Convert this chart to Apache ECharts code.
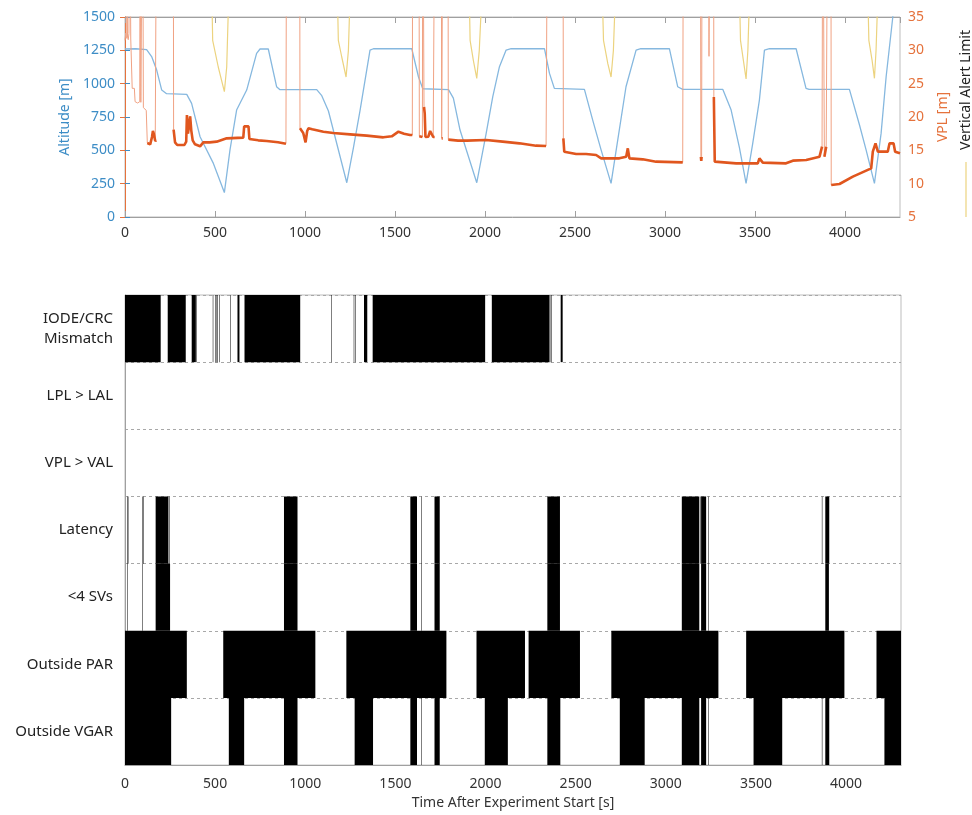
<!DOCTYPE html>
<html>
<head>
<meta charset="utf-8">
<script src="https://cdn.jsdelivr.net/npm/echarts@6/dist/echarts.min.js"></script>
<style>
html,body{margin:0;padding:0;background:#fff;}
#c{width:972px;height:815px;}
</style>
</head>
<body>
<div id="c"></div>
<script>
// ---------- DATA ----------
const xTicks = [0, 500, 1000, 1500, 2000, 2500, 3000, 3500, 4000];
const timeMax = 4305;

// Altitude [m] : [time s, altitude m]
const altitude = [[0,1260],[60,1262],[120,1255],[148,1203],[176,1102],[204,952],[231,925],[343,920],[370,852],[417,602],[491,402],[552,183],[583,502],[620,802],[676,952],[731,1227],[750,1260],[796,1260],[842,977],[861,955],[1065,955],[1093,910],[1130,795],[1232,257],[1269,520],[1306,802],[1361,1252],[1380,1262],[1593,1262],[1630,1052],[1654,962],[1797,955],[1824,892],[1861,652],[1954,257],[2006,625],[2043,902],[2080,1127],[2117,1252],[2145,1262],[2330,1262],[2358,1077],[2385,965],[2552,957],[2598,727],[2645,502],[2700,252],[2737,577],[2783,977],[2839,1252],[2865,1262],[3024,1262],[3070,977],[3098,957],[3321,957],[3367,802],[3413,520],[3450,252],[3487,552],[3524,877],[3552,1252],[3580,1262],[3728,1262],[3783,965],[3800,957],[4024,957],[4080,690],[4117,502],[4163,252],[4200,627],[4228,1052],[4265,1500],[4290,1800]];

// VPL [m] : [time s, VPL m]  (60 = beyond top of scale)
const vpl = [[0,31.5],[4,32.6],[7,31.8],[9,60],[12,60],[14,32],[18,31.6],[22,32.5],[26,60],[30,60],[32,31.7],[40,24.3],[52,24.3],[56,22.3],[70,22.1],[82,22.3],[84,60],[86,60],[88,22.2],[96,22.0],[98,60],[100,60],[102,21.4],[112,21.2],[118,21.0],[124,16.1],[130,15.8],[140,15.9],[150,17.0],[155,17.9],[160,17.5],[168,16.4],[174,16.5],[176,60],
[268,60],[270,18.1],[278,16.2],[290,15.8],[330,15.8],[340,16.3],[344,20.3],[350,17.5],[357,17.8],[362,20.1],[368,18.0],[376,16.5],[389,15.9],[417,15.6],[435,16.2],[470,16.2],[509,16.3],[565,16.8],[657,16.9],[662,18.6],[686,18.6],[691,16.7],[740,16.5],[787,16.4],[850,16.2],[894,16.0],[898,60],
[970,60],[972,18.3],[990,17.6],[1003,16.2],[1006,16.4],[1012,17.9],[1019,18.3],[1040,18.15],[1102,17.8],[1157,17.6],[1250,17.4],[1343,17.2],[1435,16.95],[1482,17.1],[1519,17.8],[1550,17.5],[1583,17.3],[1596,17.3],[1598,60],
[1633,60],[1635,17.1],[1645,17.3],[1652,17.0],[1654,60],[1659,60],[1661,21.5],[1665,20.5],[1669,17.0],[1685,17.05],[1695,17.9],[1704,18.2],[1712,17.0],[1720,17.0],[1722,60],
[1757,60],[1759,16.8],[1765,16.8],[1767,60],[1794,60],[1796,16.6],[1850,16.45],[1898,16.45],[2006,16.55],[2098,16.3],[2191,16.05],[2283,15.7],[2339,15.65],[2348,60],
[2433,60],[2435,16.8],[2440,14.8],[2450,14.55],[2506,14.45],[2561,14.45],[2617,14.3],[2645,13.8],[2746,13.8],[2784,14.05],[2793,15.3],[2802,13.8],[2876,13.65],[2950,13.3],[3098,13.2],[3102,60],
[3196,60],[3199,14.0],[3201,13.4],[3203,14.0],[3206,60],[3241,60],[3244,29.1],[3247,29.1],[3250,60],
[3269,60],[3271,23.0],[3276,13.3],[3395,13.05],[3515,13.05],[3524,13.8],[3543,13.15],[3672,13.05],[3710,13.45],[3784,13.55],[3858,14.05],[3872,15.55],[3876,60],
[3883,60],[3885,14.05],[3895,15.55],[3904,60],[3921,60],[3923,9.8],[3969,9.95],[4043,11.05],[4145,12.3],[4154,14.8],[4169,16.05],[4182,14.8],[4237,14.8],[4247,16.05],[4269,16.05],[4278,14.8],[4305,14.55]];
const vplSettledFrom = 120;   // before this time the VPL is still converging (drawn thin)

// Vertical Alert Limit [m] : [time s, VAL m]  (45 = beyond top of scale)
const val = [[0,45],[478,45],[487,31.5],[518,27.5],[552,23.8],[565,27.5],[578,40],[1175,45],[1185,31.5],[1204,29],[1228,26],[1241,30],[1252,40],[1908,45],[1917,31.5],[1935,28.5],[1954,25.8],[1968,30],[1985,40],[2645,45],[2658,31.5],[2682,28],[2700,26],[2713,30],[2726,40],[3408,45],[3419,31.5],[3435,28.5],[3450,25.7],[3460,30],[3471,40],[4121,45],[4132,31.5],[4150,28.5],[4163,25.8],[4172,30],[4184,40],[4305,45]];

// Status rows: intervals [start s, end s]
const rowLabels = ['IODE/CRC\nMismatch', 'LPL > LAL', 'VPL > VAL', 'Latency', '<4 SVs', 'Outside PAR', 'Outside VGAR'];
const iodeMismatch = [[0,198],[237,337],[370,393],[394,396],[487,489.5],[500,502.5],[508,510.5],[511,513.5],[522,524.5],[583,585.5],[624,635],[663,972],[1145,1147.5],[1269,1271.5],[1277,1279.5],[1326,1344],[1374,1998],[2035,2355],[2357,2359.5],[2364,2366.5],[2417,2428]];
const lplLal = [];
const vplVal = [];
const latency = [[12,14.5],[16,18],[96,98.5],[100,102],[170,241],[245,247.5],[882,957],[1583,1620],[1644,1646.5],[1717,1746],[2343,2413],[3089,3186],[3192,3194.5],[3196,3224],[3235,3237.5],[3866,3868.5],[3885,3907]];
const lessThan4SVs = [[12,14.5],[96,98.5],[170,250],[882,957],[1583,1620],[1644,1646.5],[1717,1746],[2343,2413],[3089,3186],[3196,3224],[3235,3237.5],[3885,3905]];
const outsidePAR = [[0,343],[545,1056],[1228,1783],[1950,2219],[2239,2524],[2698,3292],[3446,3991],[4169,4305]];
const outsideVGAR = [[0,256],[576,661],[882,957],[1274,1376],[1583,1620],[1644,1646.5],[1717,1746],[1996,2124],[2343,2415],[2745,2883],[3089,3186],[3196,3224],[3235,3237.5],[3487,3646],[3866,3868.5],[3885,3907],[4213,4305]];

// ---------- BUILD ----------
const rows = [iodeMismatch, lplLal, vplVal, latency, lessThan4SVs, outsidePAR, outsideVGAR];
const barData = [];
rows.forEach((arr, i) => arr.forEach(([s, e]) => barData.push([i, s, e])));
const vplThick = vpl.map(([t, v]) => [t, (v > 35 || t < vplSettledFrom) ? null : v]);

const FONT = "'Noto Sans', 'DejaVu Sans', sans-serif";
const BLUE = '#3d8dc6', ORANGE = '#e5723c';

const chart = echarts.init(document.getElementById('c'), null, {renderer: 'canvas'});
chart.setOption({
  animation: false,
  textStyle: {fontFamily: FONT},
  grid: [
    {left: 125, right: 72, top: 17, height: 200, show: true, borderColor: '#bdbdbd', borderWidth: 1},
    {left: 125, right: 71, top: 295, height: 474, show: true, borderColor: '#bdbdbd', borderWidth: 1}
  ],
  xAxis: [
    {gridIndex: 0, type: 'value', min: 0, max: timeMax, interval: 500,
     axisLine: {show: true, lineStyle: {color: '#a0a0a0'}},
     axisTick: {show: true, inside: true, length: 6, lineStyle: {color: '#a0a0a0'}},
     axisLabel: {color: '#333', fontSize: 14, margin: 9, fontFamily: FONT, showMaxLabel: false,
                 formatter: v => xTicks.includes(v) ? String(v) : ''},
     splitLine: {show: false}},
    {gridIndex: 0, type: 'value', position: 'top', min: 0, max: timeMax, interval: 500,
     axisLine: {show: true, lineStyle: {color: '#a0a0a0'}},
     axisTick: {show: true, inside: true, length: 6, lineStyle: {color: '#a0a0a0'}},
     axisLabel: {show: false}, splitLine: {show: false}},
    {gridIndex: 1, type: 'value', min: 0, max: timeMax, interval: 500,
     axisLine: {show: true, lineStyle: {color: '#a0a0a0'}},
     axisTick: {show: false},
     axisLabel: {color: '#333', fontSize: 14, margin: 12, fontFamily: FONT, showMaxLabel: false,
                 formatter: v => xTicks.includes(v) ? String(v) : ''},
     splitLine: {show: false},
     name: 'Time After Experiment Start [s]', nameLocation: 'middle', nameGap: 30,
     nameTextStyle: {color: '#333', fontSize: 14, fontFamily: FONT}}
  ],
  yAxis: [
    {gridIndex: 0, type: 'value', min: 0, max: 1500, interval: 250, position: 'left',
     axisLine: {show: true, lineStyle: {color: BLUE}},
     axisTick: {show: true, inside: true, length: 5, lineStyle: {color: BLUE}},
     axisLabel: {color: BLUE, fontSize: 14, margin: 10, fontFamily: FONT, formatter: v => String(v)},
     splitLine: {show: false},
     name: 'Altitude [m]', nameLocation: 'middle', nameRotate: 90, nameGap: 49,
     nameTextStyle: {color: BLUE, fontSize: 14, fontFamily: FONT}},
    {gridIndex: 0, type: 'value', min: 5, max: 35, interval: 5, position: 'right',
     axisLine: {show: true, lineStyle: {color: ORANGE}},
     axisTick: {show: true, inside: true, length: 5, lineStyle: {color: ORANGE}},
     axisLabel: {color: ORANGE, fontSize: 14, margin: 8, fontFamily: FONT},
     splitLine: {show: false},
     name: 'VPL [m]', nameLocation: 'middle', nameRotate: 90, nameGap: 36,
     nameTextStyle: {color: ORANGE, fontSize: 14, fontFamily: FONT}},
    {gridIndex: 1, type: 'category', data: rowLabels, inverse: true,
     axisLine: {show: true, lineStyle: {color: '#a0a0a0'}},
     axisTick: {show: false},
     axisLabel: {color: '#222', fontSize: 15, margin: 12, lineHeight: 20, fontFamily: FONT, align: 'right'},
     splitLine: {show: true, interval: 0, lineStyle: {color: '#a8a8a8', type: [3, 3], width: 1}}}
  ],
  series: [
    {name: 'Altitude', type: 'line', xAxisIndex: 0, yAxisIndex: 0, data: altitude,
     showSymbol: false, symbol: 'none', lineStyle: {color: '#86b8df', width: 1.3}, z: 2},
    {name: 'VPL spikes', type: 'line', xAxisIndex: 0, yAxisIndex: 1, data: vpl,
     showSymbol: false, symbol: 'none', lineStyle: {color: '#f0a283', width: 1}, z: 3},
    {name: 'VPL', type: 'line', xAxisIndex: 0, yAxisIndex: 1, data: vplThick, connectNulls: false,
     showSymbol: false, symbol: 'none', lineStyle: {color: '#e0561e', width: 2.6}, z: 4},
    {name: 'Vertical Alert Limit', type: 'line', xAxisIndex: 0, yAxisIndex: 1, data: val,
     showSymbol: false, symbol: 'none', lineStyle: {color: '#ecd37f', width: 1.2}, z: 3},
    {name: 'Status', type: 'custom', xAxisIndex: 2, yAxisIndex: 2, data: barData, clip: true,
     encode: {x: [1, 2], y: 0},
     renderItem: function (params, api) {
       const row = api.value(0), s = api.value(1), e = api.value(2);
       const p0 = api.coord([s, row]);
       const p1 = api.coord([e, row]);
       const h = api.size([0, 1])[1];
       return {type: 'rect',
               shape: {x: p0[0], y: p0[1] - h / 2, width: Math.max(p1[0] - p0[0], 0.5), height: h},
               style: {fill: '#000'}};
     }, z: 5}
  ],
  graphic: [
    {type: 'text', x: 966, y: 90, rotation: Math.PI / 2,
     style: {text: 'Vertical Alert Limit', fill: '#222', font: '14px ' + FONT, align: 'center', verticalAlign: 'middle'}},
    {type: 'line', shape: {x1: 966, y1: 162, x2: 966, y2: 217}, style: {stroke: '#ecd37f', lineWidth: 1.2}}
  ]
});
</script>
</body>
</html>
